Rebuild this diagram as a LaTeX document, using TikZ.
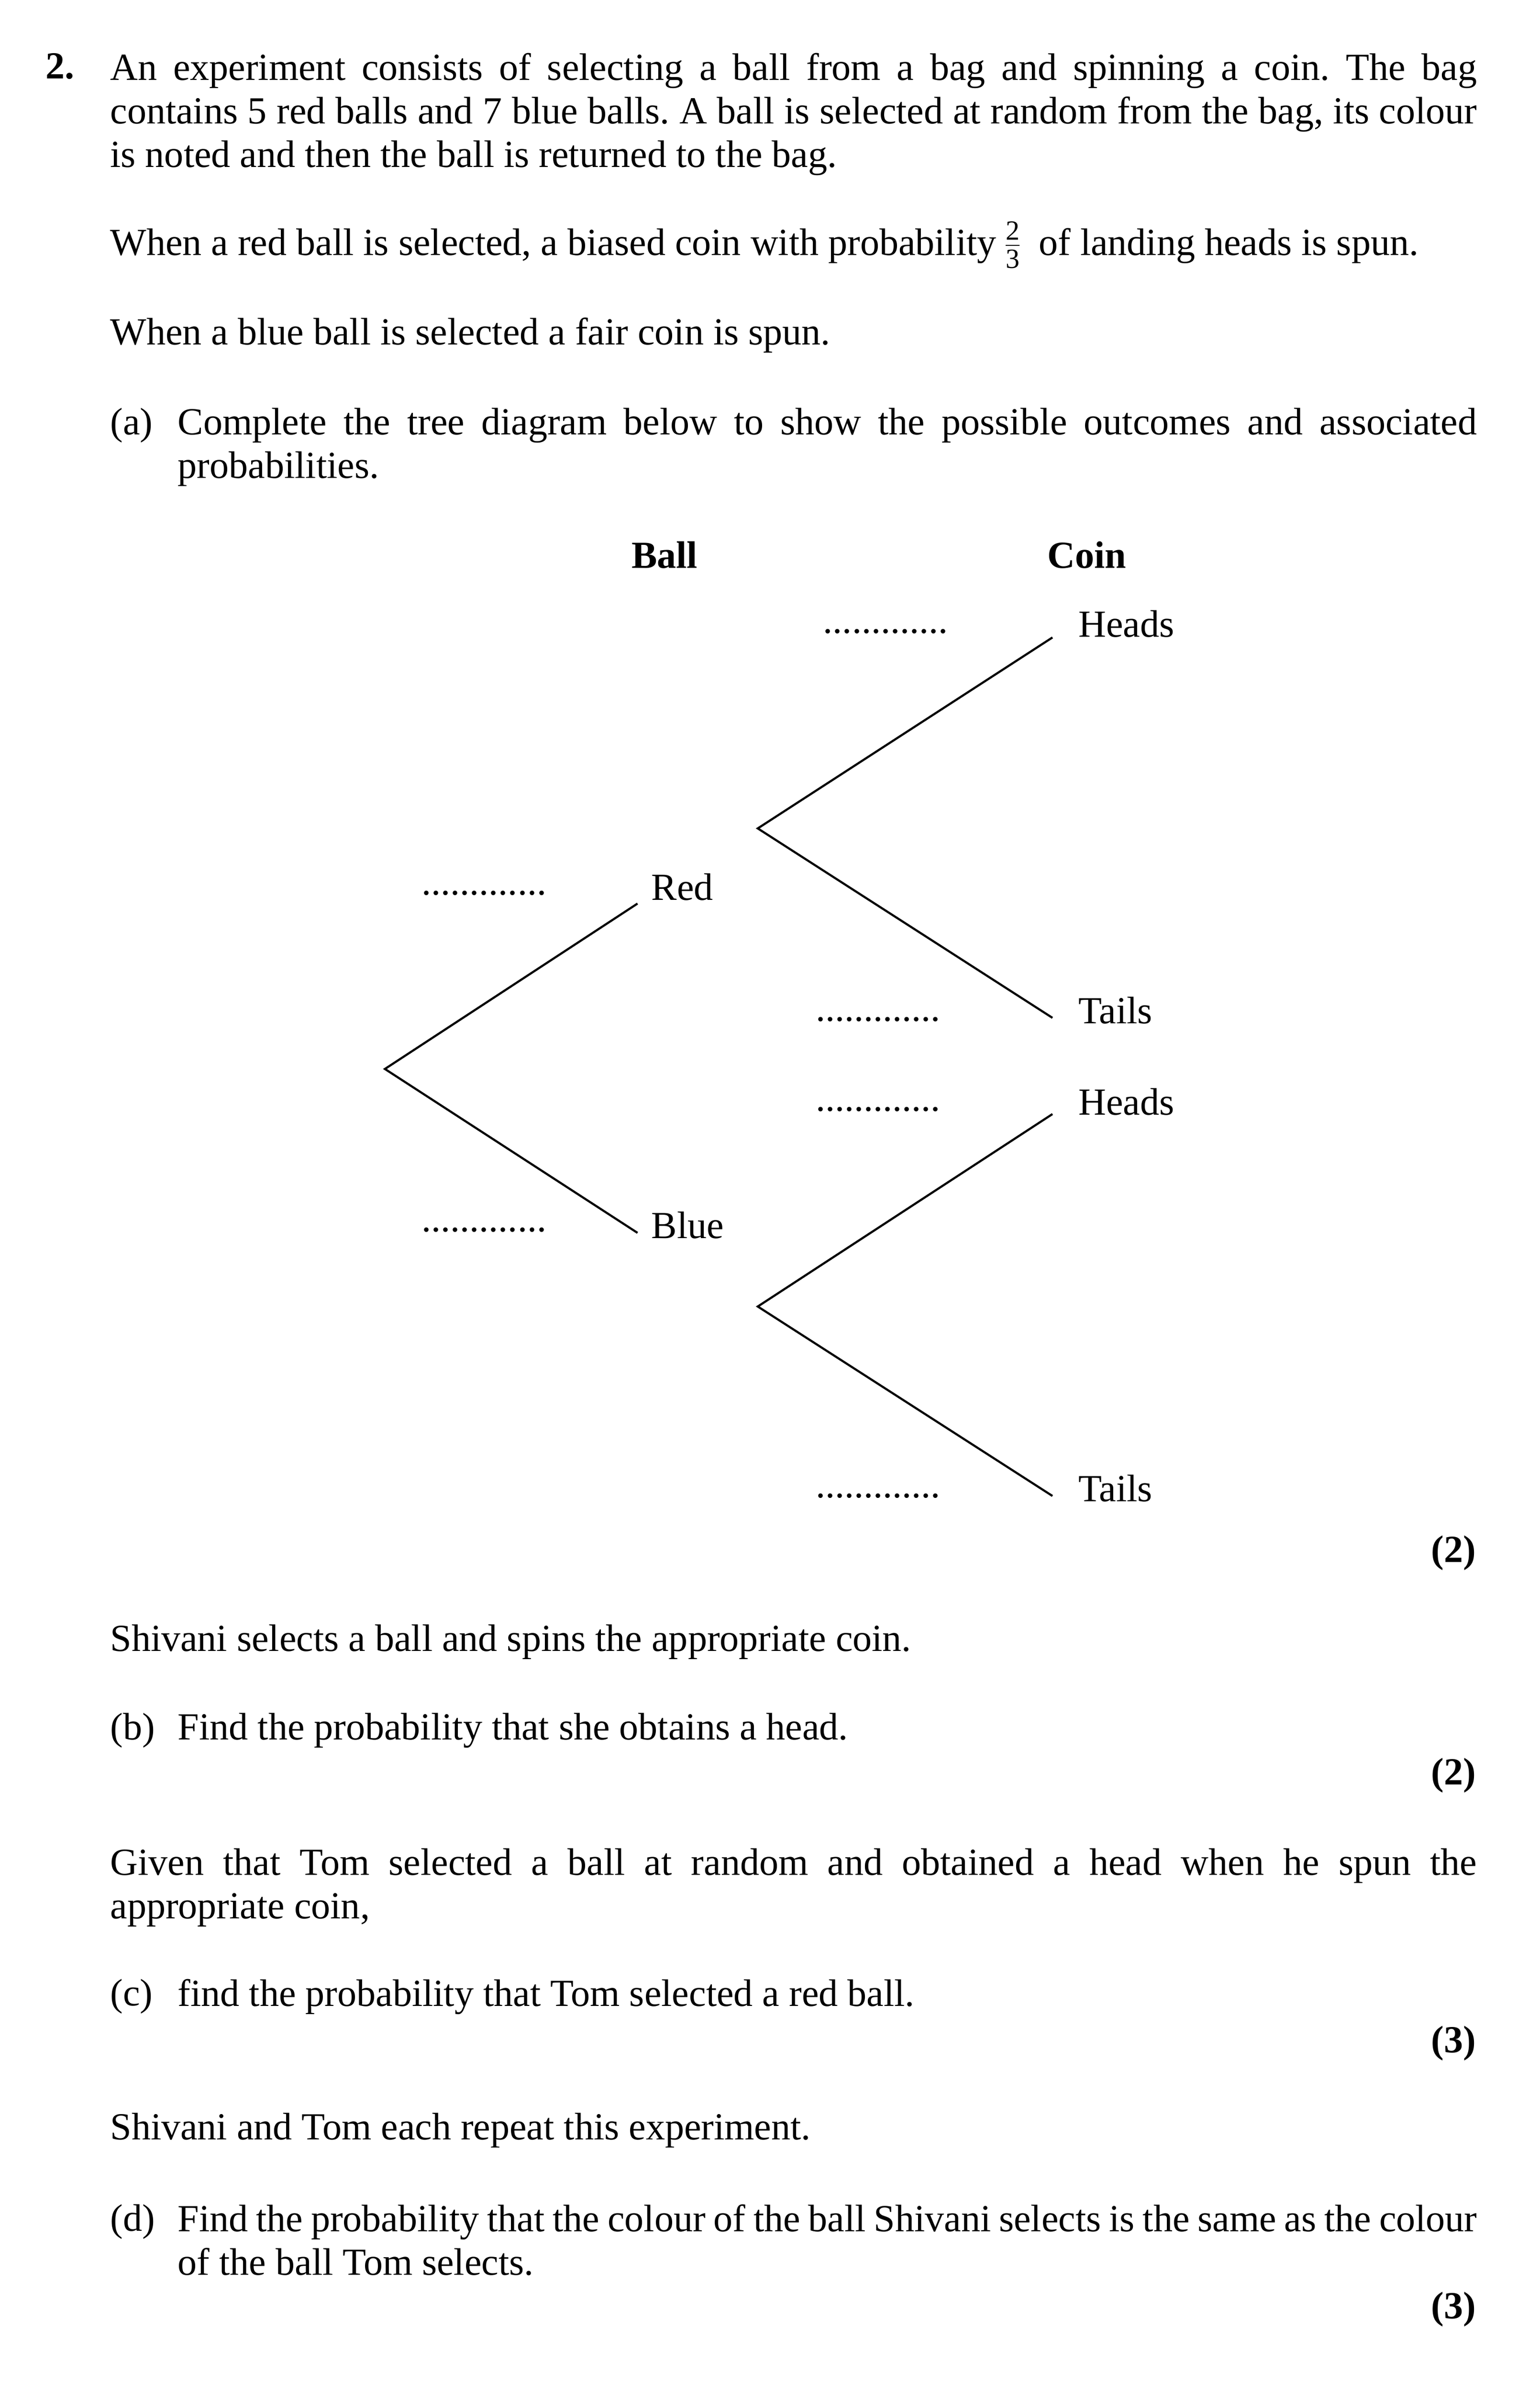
\documentclass[tikz,border=0pt]{standalone}
\usepackage{fontspec}
\setmainfont{Liberation Serif}
\begin{document}
\frenchspacing
\begin{tikzpicture}[x=0.02cm,y=-0.02cm,
  txt/.style={anchor=north west,inner sep=0pt,font=\fontsize{14.5}{16.5}\selectfont},
  par/.style={txt,text width=#1*0.02cm,align=justify},
  lbl/.style={anchor=west,inner sep=0pt,font=\fontsize{14.5}{16.5}\selectfont},
  mk/.style={anchor=east,inner sep=0pt,font=\bfseries\fontsize{14.5}{16.5}\selectfont},
  dots/.style={inner sep=0pt,font=\fontsize{14.5}{16.5}\selectfont},
  br/.style={line width=0.8pt}]
\useasboundingbox (0,0) rectangle (1024,1591);
\node[txt,font=\bfseries\fontsize{14.5}{16.5}\selectfont] (n2) at (30,35) {2.};
\node[par=909] (p1) at (73,35) {An experiment consists of selecting a ball from a bag and spinning a coin. The bag\linebreak contains 5 red balls and 7 blue balls. A ball is selected at random from the bag, its colour\linebreak is noted and then the ball is returned to the bag.};
\node[lbl] (p2) at (73,163) {When a red ball is selected, a biased coin with probability\,$\frac{\mbox{\fontsize{10.5}{10.5}\selectfont 2}}{\mbox{\fontsize{10.5}{10.5}\selectfont 3}}$\, of landing heads is spun.};
\node[lbl] (p3) at (73,223) {When a blue ball is selected a fair coin is spun.};
\node[txt] (a) at (73,271) {(a)};
\node[par=864] (pa) at (118,271) {Complete the tree diagram below to show the possible outcomes and associated\linebreak probabilities.};
\node[dots,font=\bfseries\fontsize{14.5}{16.5}\selectfont] (ball) at (442,369) {Ball};
\node[dots,font=\bfseries\fontsize{14.5}{16.5}\selectfont] (coin) at (723,369) {Coin};
% tree
\coordinate (r0) at (256,711);
\coordinate (rr) at (424,601);
\coordinate (rb) at (424,820);
\coordinate (c1) at (504,551);
\coordinate (c1h) at (700,424);
\coordinate (c1t) at (700,677);
\coordinate (c2) at (504,869);
\coordinate (c2h) at (700,741);
\coordinate (c2t) at (700,995);
\draw[br] (rr) -- (r0) -- (rb);
\draw[br] (c1h) -- (c1) -- (c1t);
\draw[br] (c2h) -- (c2) -- (c2t);
\node[lbl] (red) at (433,590) {Red};
\node[lbl] (blue) at (433,815) {Blue};
\node[lbl] (h1) at (717,415) {Heads};
\node[lbl] (t1) at (717,672) {Tails};
\node[lbl] (h2) at (717,733) {Heads};
\node[lbl] (t2) at (717,990) {Tails};
\node[dots] (d1) at (322,594) {.............};
\node[dots] (d2) at (322,818) {.............};
\node[dots] (d3) at (589,420) {.............};
\node[dots] (d4) at (584,678) {.............};
\node[dots] (d5) at (584,738) {.............};
\node[dots] (d6) at (584,995) {.............};
\node[mk] (m1) at (982,1033) {(2)};
\node[lbl] (p4) at (73,1092) {Shivani selects a ball and spins the appropriate coin.};
\node[lbl] (b) at (73,1151) {(b)};
\node[lbl] (pb) at (118,1151) {Find the probability that she obtains a head.};
\node[mk] (m2) at (982,1181) {(2)};
\node[par=909] (p5) at (73,1229) {Given that Tom selected a ball at random and obtained a head when he spun the\linebreak appropriate coin,};
\node[lbl] (c) at (73,1328) {(c)};
\node[lbl] (pc) at (118,1328) {find the probability that Tom selected a red ball.};
\node[mk] (m3) at (982,1359) {(3)};
\node[lbl] (p6) at (73,1417) {Shivani and Tom each repeat this experiment.};
\node[txt] (d) at (73,1466) {(d)};
\node[par=864] (pd) at (118,1466) {Find the probability that the colour of the ball Shivani selects is the same as the colour\linebreak of the ball Tom selects.};
\node[mk] (m4) at (982,1536) {(3)};
\end{tikzpicture}
\end{document}
